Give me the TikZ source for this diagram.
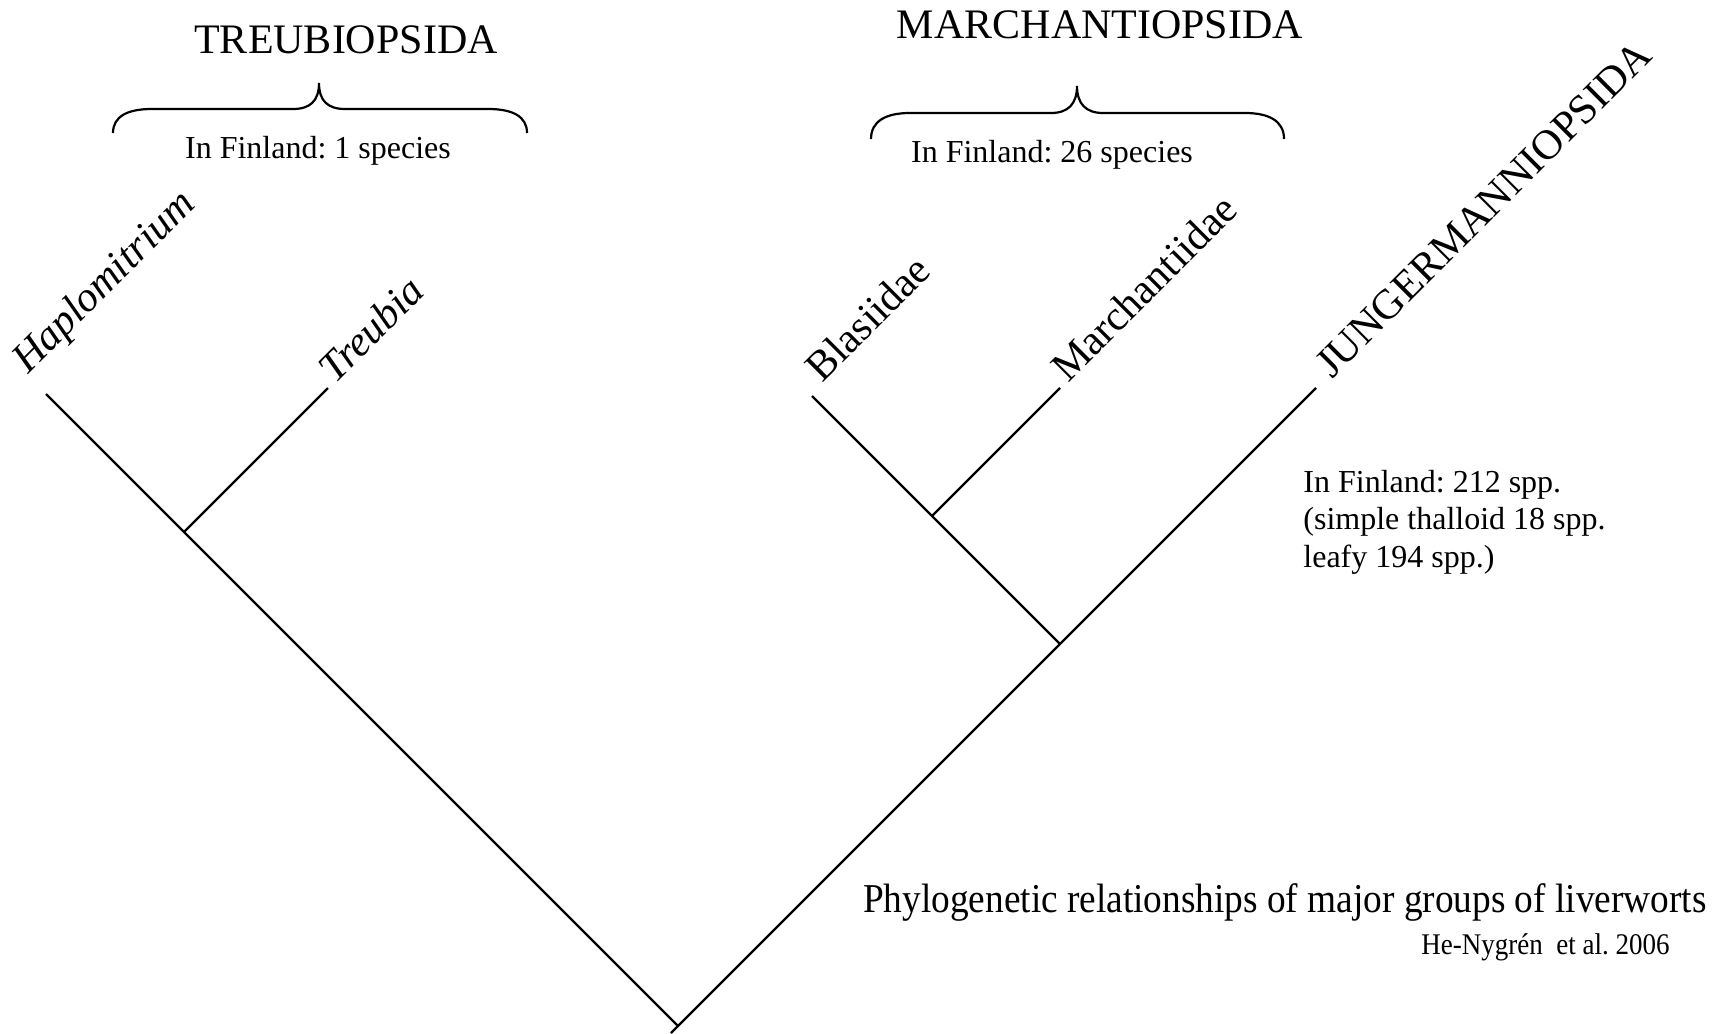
\documentclass[tikz,border=0pt]{standalone}
\usepackage{fontspec}
\setmainfont{Liberation Serif}
\frenchspacing
\begin{document}
\begin{tikzpicture}[x=0.5pt,y=-0.5pt,
  branch/.style={line width=1.1pt, line cap=butt},
  bracepath/.style={line width=1.1pt},
  leaflab/.style={rotate=45, anchor=base west, inner sep=0pt, font=\fontsize{21}{25}\selectfont},
  grouptitle/.style={anchor=base, inner sep=0pt, font=\fontsize{21}{25}\selectfont},
  countlab/.style={inner sep=0pt, font=\fontsize{16}{19}\selectfont},
]
\useasboundingbox (0,0) rectangle (1727,1033);

% tree points
\coordinate (root) at (678,1026);
\coordinate (bot) at (671,1033);
\coordinate (hap) at (46,394);
\coordinate (jT) at (184,532);
\coordinate (treu) at (328,388);
\coordinate (jung) at (1316,388);
\coordinate (jM) at (1060,644);
\coordinate (blas) at (812,396);
\coordinate (jB) at (932,516);
\coordinate (march) at (1060,388);

% branches
\draw[branch] (root) -- (hap);
\draw[branch] (jT) -- (treu);
\draw[branch] (bot) -- (jung);
\draw[branch] (jM) -- (blas);
\draw[branch] (jB) -- (march);

% leaf labels
\node[leaflab] (lhap) at (28,375) {\itshape Haplomitrium};
\node[leaflab] (ltreu) at (335,385) {\itshape Treubia};
\node[leaflab] (lblas) at (822,384) {Blasiidae};
\node[leaflab] (lmarch) at (1068,384) {Marchantiidae};
\node[leaflab] (ljung) at (1332,380) {JUNGERMANNIOPSIDA};

% group titles
\node[grouptitle] (ttreu) at (346,53) {TREUBIOPSIDA};
\node[grouptitle] (tmarch) at (1100,39) {MARCHANTIOPSIDA};

% braces
\draw[bracepath] (113,133) .. controls (113,116) and (128,109) .. (152,109)
  -- (293,109) .. controls (310,109) and (319,101) .. (319,83)
  .. controls (319,101) and (328,109) .. (345,109)
  -- (488,109) .. controls (512,109) and (527,116) .. (527,133);
\draw[bracepath] (871,139) .. controls (871,121) and (886,113) .. (910,113)
  -- (1051,113) .. controls (1068,113) and (1077,104) .. (1077,86)
  .. controls (1077,104) and (1086,113) .. (1103,113)
  -- (1245,113) .. controls (1269,113) and (1284,121) .. (1284,139);

% counts
\node[countlab, anchor=base] (ctreu) at (318,158) {In Finland: 1 species};
\node[countlab, anchor=base] (cmarch) at (1052,162) {In Finland: 26 species};
\node[countlab, anchor=base west] (cj1) at (1303,492) {In Finland: 212 spp.};
\node[countlab, anchor=base west] (cj2) at (1303,529) {(simple thalloid 18 spp.};
\node[countlab, anchor=base west] (cj3) at (1303,567) {leafy 194 spp.)};

% caption
\node[inner sep=0pt, anchor=base east, font=\fontsize{20.5}{24}\selectfont] (cap) at (1707,912)
  {\scalebox{0.91}[1]{Phylogenetic relationships of major groups of liverworts}};
\node[inner sep=0pt, anchor=base east, font=\fontsize{15}{18}\selectfont] (cite) at (1670,954)
  {\scalebox{0.9}[1]{He-Nygrén~ et al. 2006}};
\end{tikzpicture}
\end{document}
